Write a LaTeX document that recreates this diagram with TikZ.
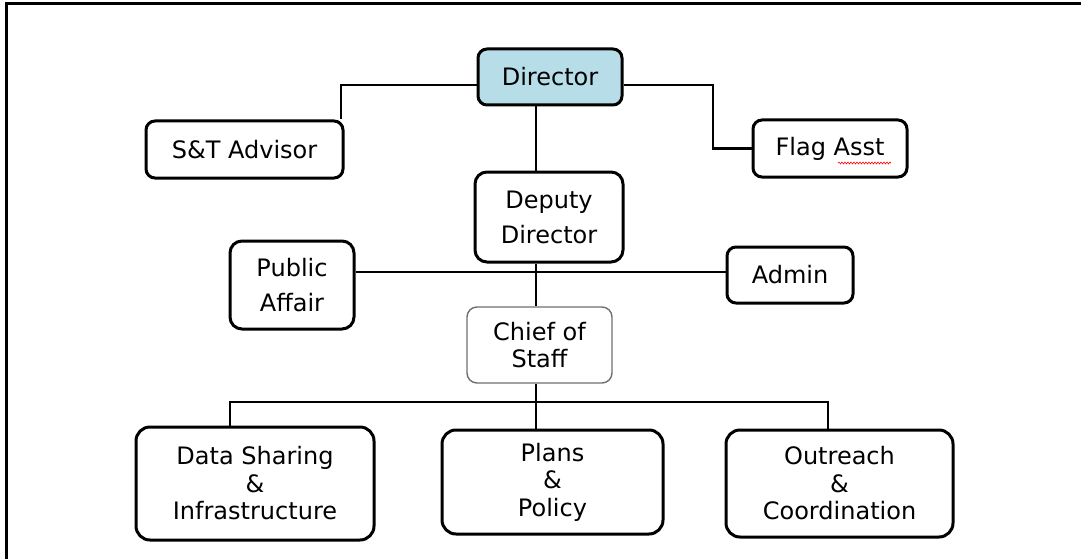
\documentclass[tikz,border=0pt]{standalone}
\usepackage{fontspec}
\setmainfont{DejaVu Sans}
\usetikzlibrary{decorations.pathmorphing}
\definecolor{dirblue}{RGB}{183,221,232}
\definecolor{cosgray}{RGB}{110,110,110}
\tikzset{
	unitbox/.style={draw, line width=3pt, rounded corners=9pt, align=center, inner sep=0pt, font=\fontsize{24}{35}\selectfont},
	widebox/.style={unitbox, rounded corners=14pt, font=\fontsize{24}{27.5}\selectfont},
	link/.style={line width=2.8pt},
}
\begin{document}
\begin{tikzpicture}[x=1pt,y=-1pt]
	\useasboundingbox (0,0) rectangle (1081,559);
	\draw[line width=3pt] (6,559) -- (6,4) -- (1081,4);

	\node[unitbox, fill=dirblue, minimum width=144pt, minimum height=56pt] (dir) at (550,77) {Director};
	\node[unitbox, minimum width=197pt, minimum height=57pt] (st) at (244.5,149.5) {S\&T Advisor};
	\node[unitbox, minimum width=154pt, minimum height=57pt] (flag) at (830,148.5) {Flag Asst};
	\node[unitbox, rounded corners=12pt, minimum width=148pt, minimum height=90pt] (dep) at (549,217) {Deputy\\Director};
	\node[unitbox, rounded corners=12pt, minimum width=124pt, minimum height=88pt] (pa) at (292,285) {Public\\Affair};
	\node[unitbox, minimum width=126pt, minimum height=56pt] (adm) at (790,275) {Admin};
	\node[widebox, draw=cosgray, line width=1.4pt, rounded corners=10pt, minimum width=145pt, minimum height=76pt] (cos) at (539.5,345) {Chief of\\Staff};
	\node[widebox, minimum width=238pt, minimum height=113pt] (ds) at (255,483.5) {Data Sharing\\\&\\Infrastructure};
	\node[widebox, minimum width=221pt, minimum height=104pt] (pp) at (552.5,482) {Plans\\\&\\Policy};
	\node[widebox, minimum width=227pt, minimum height=107pt] (out) at (839.5,483.5) {Outreach\\\&\\Coordination};

	\coordinate (dl) at (341,85);
	\coordinate (dr) at (713,85);
	\coordinate (sp) at (536,272);
	\coordinate (bb) at (536,402);
	\coordinate (bl) at (230,402);
	\coordinate (br) at (828,402);

	\draw[link] (dir.west |- dl) -- (dl) -- (st.north -| dl);
	\draw[link] (dir.east |- dr) -- (dr) |- (flag.west);
	\draw[link] (dir.south -| sp) -- (dep.north -| sp);
	\draw[link] (dep.south -| sp) -- (cos.north -| sp);
	\draw[link] (pa.east |- sp) -- (adm.west |- sp);
	\draw[link] (cos.south -| bb) -- (pp.north -| bb);
	\draw[link] (ds.north -| bl) -- (bl) -- (br) -- (out.north -| br);

	\draw[red, line width=0.6pt, decorate, decoration={snake, amplitude=0.9pt, segment length=3pt}] (838,163) -- (891,163);
\end{tikzpicture}
\end{document}
